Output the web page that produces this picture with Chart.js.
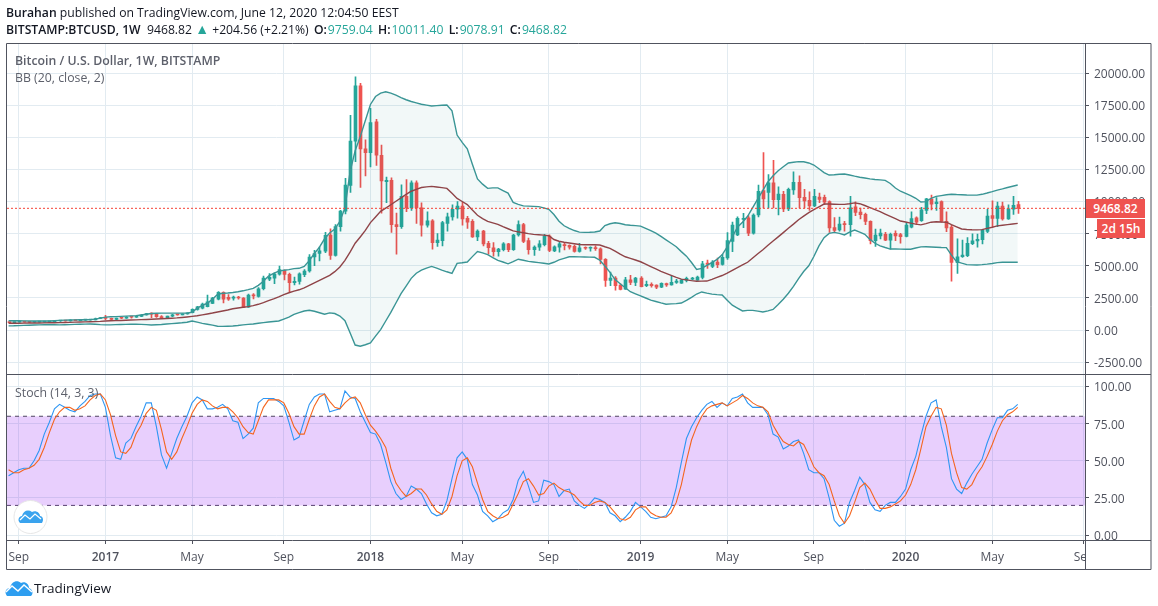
<!DOCTYPE html>
<html>
<head>
<meta charset="utf-8">
<title>BTCUSD 1W</title>
<script src="https://cdn.jsdelivr.net/npm/chart.js@4/dist/chart.umd.min.js"></script>
<style>
  html, body { margin: 0; padding: 0; background: #fff; }
  body { width: 1158px; height: 606px; position: relative; overflow: hidden; font-family: "Open Sans", sans-serif; color: #131722; }
  #chart { position: absolute; left: 0; top: 0; }
  .txt { position: absolute; white-space: nowrap; line-height: 16px; }
  .head { font-size: 12.2px; }
  .pane { font-size: 12.3px; color: #5d606b; }
  .up { color: #26a69a; }
  b { font-weight: 600; }
  b.l { margin-left: 2px; margin-right: 1px; }
  .tag { position: absolute; background: #ef5350; color: #fff; font-size: 12px; font-weight: 600; line-height: 19px; height: 19px; text-align: center; }
  .tv { font-size: 13.5px; color: #131722; }
</style>
</head>
<body>
<canvas id="chart" width="1158" height="606"></canvas>

<div class="txt head" style="left:6px;top:5px"><b>Burahan</b> published on TradingView.com, June 12, 2020 12:04:50 EEST</div>
<div class="txt head" style="left:6px;top:21px"><b>BITSTAMP:BTCUSD, 1W</b>&nbsp; 9468.82 <span class="up" style="font-size:14px">▲</span> +204.56 (+2.21%) <b class="l">O:</b><span class="up">9759.04</span> <b class="l">H:</b><span class="up">10011.40</span> <b class="l">L:</b><span class="up">9078.91</span> <b class="l">C:</b><span class="up">9468.82</span></div>
<div class="txt pane" style="left:15px;top:53px;font-weight:600">Bitcoin / U.S. Dollar, 1W, BITSTAMP</div>
<div class="txt pane" style="left:15px;top:70px">BB (20, close, 2)</div>
<div class="txt pane" style="left:15px;top:385px">Stoch (14, 3, 3)</div>

<div class="tag" style="left:1086px;top:199px;width:59px">9468.82</div>
<div class="tag" style="left:1097px;top:219px;width:48px">2d 15h</div>

<svg style="position:absolute;left:13px;top:500px" width="36" height="36" viewBox="0 0 36 36">
  <circle cx="17.500" cy="17" r="16.500" fill="#fff" stroke="#e6e6e6" stroke-width="1"/>
  <path d="M7 23 C4 20 6 16 9 16 C10 11 15 9 19 12 C23 10 27 13 27 16 C30 16 31 20 29 23 Z" fill="#3aa3ee"/>
  <path d="M7 20 L12 15 L17 19 L22 14 L28 19" fill="none" stroke="#fff" stroke-width="1.200"/>
</svg>
<svg style="position:absolute;left:5px;top:579px" width="28" height="18" viewBox="0 0 28 18">
  <path d="M2 17 C-1 13 1 9 5 9 C6 3 12 0 16 4 C20 2 24 5 24 9 C27 10 29 14 26 17 Z" fill="#2e9ef0"/>
  <path d="M1 13 L7 7 L13 12 L19 6 L27 13" fill="none" stroke="#fff" stroke-width="1.400"/>
</svg>
<div class="txt tv" style="left:34px;top:580px">TradingView</div>

<script>
// weekly BTCUSD bars, one value per week
const opens = [
  581,573,608,623,608,603,612,617,638,655,
  698,705,702,735,732,765,775,790,895,965,
  910,815,920,915,1015,1000,1050,1175,1270,1230,
  1040,960,1080,1190,1180,1250,1340,1600,1690,1820,
  2075,2390,2930,2540,2480,2530,2490,1780,2720,2620,
  3220,3960,4040,4340,4620,4330,3680,3780,4300,4590,
  5680,5950,6130,7390,5800,8050,9250,11250,14700,19000,
  14100,13800,16200,13600,11550,11650,8200,8050,10400,9500,
  11450,9500,8150,8500,6800,6950,8300,8800,9400,9650,
  8700,8450,7250,7700,6750,6400,6100,6250,6700,6250,
  7400,8200,6950,6250,6450,6650,7300,6150,6450,6650,
  6580,6520,6120,6420,6360,6420,6320,5500,3850,4050,
  3500,3180,3900,3700,4050,3450,3560,3500,3330,3620,
  3500,3710,3650,3850,3960,3880,4100,5200,4950,5280,
  5100,5600,6900,7400,8600,8720,7530,8950,10850,10700,
  11450,10150,10550,9430,10900,11500,10330,10100,9650,10350,
  10330,10000,7980,7780,8270,8200,9580,9170,9000,8450,
  6950,7320,7450,7000,7520,7420,7280,8000,8720,8500,
  9300,10180,9830,10000,8450,8000,5240,5700,5780,6720,
  6930,7020,7680,8900,8690,9650,8650,9400,9759.04
];
const highs = [
  583,612,630,628,612,615,620,645,658,740,
  745,755,785,750,780,780,795,935,985,1150,
  920,930,925,1040,1070,1060,1190,1290,1340,1260,
  1120,1090,1210,1220,1260,1345,1640,1850,2100,2720,
  2550,2990,2980,2760,2640,2620,2530,2800,2830,3300,
  4200,4400,4450,4980,4680,4420,4120,4450,4700,5860,
  6200,6470,7600,7880,8200,9320,11800,16700,19700,19200,
  14800,17250,16400,14400,11900,11850,9100,11300,11700,11600,
  11600,9900,9200,8600,7500,8450,9100,9750,10000,9950,
  8850,8600,7800,7750,6900,6800,6350,6800,6750,7450,
  8500,8300,7150,6550,6950,7450,7400,6550,6850,6800,
  6620,6600,6750,6470,6470,6560,6400,5550,4500,4150,
  3600,4100,4250,4100,4150,3800,3680,3520,3680,3650,
  4200,3950,3950,4120,4100,4200,5350,5450,5400,5600,
  5880,7580,8400,8800,9080,8900,9050,11280,13800,12100,
  13200,11150,10800,11050,12300,12000,10950,10750,10950,10650,
  10500,10050,8750,8780,8450,10400,9980,9480,9100,8500,
  7850,7850,7600,7550,7720,7530,8350,9200,8800,9550,
  10250,10500,10300,10050,9200,8150,7100,7000,7200,7480,
  7470,7830,9400,10050,9950,9950,9750,10400,10011.40
];
const lows = [
  568,565,600,600,590,598,604,610,625,650,
  672,695,695,725,725,755,770,785,880,810,
  755,800,880,905,930,975,1040,1160,950,975,
  900,940,1040,1150,1175,1240,1330,1550,1650,1800,
  2050,2350,2100,2300,2330,2400,1730,1760,2420,2550,
  3120,3830,3600,4270,3900,2970,3500,3570,4150,4500,
  5000,5370,6020,5500,5750,7700,9030,10700,13100,11100,
  12000,12700,12800,9100,9900,7600,5900,7900,9200,9300,
  8300,7300,8000,6300,6500,6550,7700,8550,8700,8150,
  7900,7200,6950,6550,5900,5750,5750,6150,6100,6200,
  7300,6800,5900,5800,6200,6550,6100,6100,6050,6230,
  6300,6050,6050,6270,6140,6200,5150,3400,3450,3100,
  3120,3150,3530,3450,3350,3370,3330,3220,3300,3400,
  3480,3620,3620,3750,3900,3850,3970,4800,4860,4860,
  5050,5500,6100,7350,7960,7350,7450,8800,9500,9500,
  9500,8950,9200,9280,10550,9500,9500,9300,9600,9900,
  9750,7600,7650,7700,7700,7300,8900,8650,8200,6700,
  6500,7080,6950,6300,6950,6750,7250,7950,8200,8450,
  9050,9350,9300,8400,7650,3800,4400,5650,5700,6650,
  6450,6700,7570,8000,8050,8550,8600,9000,9078.91
];
const closes = [
  573,608,623,608,603,612,617,638,655,698,
  705,702,735,732,765,775,790,895,965,910,
  815,920,915,1015,1000,1050,1175,1270,1230,1045,
  960,1080,1190,1180,1250,1340,1600,1800,2020,2200,
  2490,2930,2390,2390,2520,2490,1750,2710,2650,3210,
  4050,4090,4350,4700,4330,3680,3780,4380,4590,5680,
  5950,6170,7370,5800,8050,9250,11280,14700,19000,14100,
  13800,16150,13600,11600,11650,8200,8050,10400,9500,11450,
  9500,8150,8500,6800,7000,8350,8800,9400,9650,8650,
  8400,7250,7700,6700,6400,6100,6300,6700,6250,7380,
  8200,6900,6250,6450,6700,7300,6200,6480,6700,6560,
  6450,6120,6400,6360,6420,6320,5500,3850,4050,3450,
  3150,3900,3700,4050,3380,3560,3450,3330,3630,3500,
  3710,3800,3880,4020,4020,4110,5150,5100,5290,5090,
  5660,6950,8170,8700,8700,7530,8950,10800,10200,11450,
  10150,10580,9430,10950,11500,10300,10050,9650,10400,10170,
  9950,7950,7750,8250,8200,9500,9150,8980,8450,6950,
  7390,7550,7000,7450,7330,7260,8170,8680,8400,9350,
  10200,9800,9960,8450,7950,5250,5700,5840,6750,6930,
  7060,7780,8870,8680,9650,8650,9420,9700,9468.82
];

const bbUpper = [
  720,720,715,710,705,700,700,700,705,725,
  750,765,775,785,795,800,810,850,920,1000,
  1030,1040,1060,1080,1100,1120,1170,1230,1280,1300,
  1310,1310,1310,1310,1310,1310,1380,1700,1920,2080,
  2400,2780,2860,2880,2920,2980,3050,3140,3240,3470,
  3800,4200,4400,4580,4650,4700,4780,4800,4950,5400,
  5950,6450,7100,7550,7850,8450,9500,12300,13950,15050,
  16300,17550,18170,18430,18540,18430,18280,18090,17920,17780,
  17680,17570,17500,17430,17460,17490,17510,17050,15170,14600,
  14100,12900,11760,11350,11020,11060,11060,10850,10650,9930,
  9780,9660,9640,9620,9600,9500,9390,8990,8460,8110,
  7900,7740,7620,7600,7610,7630,7700,8130,8270,8340,
  8290,8190,8150,8120,8080,7910,7730,7540,7280,7020,
  6750,6480,6100,5750,5250,4710,4790,5030,5240,5500,
  5850,6470,7240,8000,8390,8850,9520,10210,10870,11540,
  12000,12400,12700,13000,13050,13100,13090,13000,12840,12550,
  12250,12060,12080,12120,12140,12060,11970,11890,11830,11760,
  11710,11680,11640,11400,11050,10800,10630,10450,10250,9960,
  9990,10250,10400,10460,10520,10560,10540,10530,10510,10500,
  10500,10560,10660,10770,10890,10980,11090,11190,11280
];
const bbBasis = [
  520,525,530,535,540,545,550,555,560,565,
  575,585,595,610,620,630,640,650,670,700,
  715,730,745,760,775,790,805,820,835,855,
  870,890,915,940,975,1015,1060,1110,1180,1250,
  1320,1400,1480,1560,1650,1710,1770,1820,1900,2000,
  2130,2280,2420,2580,2760,2900,3030,3130,3280,3470,
  3660,3860,4060,4250,4540,4900,5420,6060,6750,7240,
  7750,8360,8800,9230,9490,9750,10020,10280,10550,10800,
  10950,11090,11140,11180,11130,11080,11020,10640,10240,10000,
  9760,9330,8930,8670,8450,8340,8220,8040,7880,7710,
  7640,7570,7500,7440,7410,7380,7340,7040,6910,6830,
  6770,6710,6650,6640,6640,6640,6610,6480,6360,6130,
  5900,5700,5580,5450,5310,5120,4940,4750,4570,4410,
  4250,4090,3960,3900,3840,3790,3800,3810,3940,4090,
  4240,4430,4640,4850,5060,5270,5600,5930,6250,6590,
  6920,7250,7580,7920,8240,8580,8860,9130,9360,9590,
  9800,9800,9790,9780,9780,9830,9890,9830,9690,9530,
  9370,9210,9020,8840,8660,8480,8400,8320,8240,8180,
  8280,8390,8420,8400,8390,8200,8030,7860,7820,7800,
  7790,7810,7910,8000,8100,8150,8200,8250,8300
];
const bbLower = [
  320,325,340,360,375,390,400,410,415,405,
  400,405,415,435,445,460,470,450,420,400,
  400,420,430,440,450,460,440,420,390,410,
  430,470,500,530,560,600,700,610,520,450,
  380,290,285,295,310,350,400,440,470,520,
  570,620,660,700,850,1000,1220,1350,1480,1540,
  1460,1340,1225,1330,1280,1090,730,-210,-1170,-1260,
  -1150,-1000,-480,30,700,1370,2100,2830,3420,4020,
  4420,4660,4820,4950,4810,4660,4530,4410,5190,5230,
  5290,5710,6110,6000,5860,5640,5420,5290,5150,5320,
  5510,5430,5340,5290,5240,5190,5140,5270,5460,5580,
  5700,5700,5690,5680,5670,5660,5430,4980,4480,3920,
  3600,3290,2980,2810,2650,2490,2330,2220,2110,2010,
  2030,2050,2100,2310,2540,2800,2960,2870,2790,2750,
  2720,2320,1930,1700,1480,1530,1530,1470,1400,1490,
  1600,1980,2400,2860,3400,4000,4550,5000,5720,6550,
  7180,7520,7600,7520,7400,7620,7780,7620,7450,7050,
  6750,6550,6420,6300,6300,6290,6280,6280,6380,6470,
  6480,6460,6440,6420,6410,5830,5320,5200,5090,5070,
  5060,5090,5130,5180,5240,5270,5270,5270,5270
];

const stochK = [
  40,42,44,45,45,50,57,68,76,85,
  88,86,84,83,87,90,94,95,95,86,
  67,52,51,62,65,73,80,89,89,73,
  54,45,55,65,73,80,89,93,91,85,
  85,86,88,85,77,76,65,68,72,89,
  92,92,92,90,87,76,64,66,77,88,
  93,95,95,83,84,85,97,93,92,83,
  76,69,68,61,49,36,28,24,26,33,
  31,28,21,15,13,14,23,38,52,56,
  51,34,27,16,13,9,11,15,17,24,
  37,43,33,22,23,37,36,34,26,30,
  31,23,20,18,21,25,24,22,15,13,
  9,12,16,22,19,16,12,11,12,13,
  19,32,49,65,73,79,84,88,90,86,
  89,87,92,93,95,89,86,86,86,81,
  68,66,58,60,63,64,55,44,42,42,
  38,25,10,6,8,22,30,39,34,22,
  17,16,20,22,22,26,31,44,53,67,
  80,89,91,73,59,38,31,28,35,41,
  46,51,62,71,79,79,84,85,88
];
const stochD = [
  44,42,42,44,45,47,51,59,69,78,
  83,86,86,84,85,87,91,94,95,91,
  81,67,56,55,59,68,74,82,86,84,
  71,56,51,56,65,73,82,88,91,90,
  87,85,86,86,83,79,73,69,68,77,
  86,91,91,91,89,82,73,68,68,78,
  87,93,95,90,86,85,89,92,93,89,
  81,74,70,65,59,45,35,30,26,28,
  31,31,27,21,16,14,17,26,40,50,
  52,46,35,24,16,13,11,12,14,21,
  28,36,38,33,27,28,33,35,32,30,
  29,27,23,20,20,22,23,22,19,15,
  11,10,12,17,19,19,15,13,12,12,
  15,22,34,50,64,73,80,85,87,88,
  89,87,89,91,94,92,89,87,86,83,
  74,68,63,61,60,63,61,54,46,42,
  40,34,23,13,8,13,22,32,35,31,
  24,18,18,19,21,23,27,34,44,58,
  73,80,86,85,74,55,42,32,31,34,
  41,46,53,61,70,77,81,83,86
];

const xTickWeeks = [2, 19, 36, 54, 71, 89, 106, 124, 141, 158, 176, 193, 211];
const xTickLabels = ['Sep', '2017', 'May', 'Sep', '2018', 'May', 'Sep', '2019', 'May', 'Sep', '2020', 'May', 'Sep'];
const priceTicks = [-2500, 0, 2500, 5000, 7500, 10000, 12500, 15000, 17500, 20000];
const stochTicks = [0, 25, 50, 75, 100];
const lastPrice = 9468.82;
const stochHigh = 80;
const stochLow = 20;

const UP = '#26a69a';
const DOWN = '#ef5350';
const GRID = '#e2ebf1';
const FRAME = '#50535e';
const TEXT = '#50535e';
const BAND = '#3a9595';
const FONT = '"Open Sans", sans-serif';

// visible range of the panes
const xMin = -0.31, xMax = 211.2;
const priceMin = -3476, priceMax = 22257;
const stochMin = -3.3, stochMax = 108;

const series = (vals) => vals.map((v, i) => ({ x: i, y: v }));
const level = (v) => [{ x: xMin, y: v }, { x: xMax, y: v }];
const candleColor = (ctx) => (closes[ctx.dataIndex] >= opens[ctx.dataIndex] ? UP : DOWN);
const isYear = (ctx) => ctx.tick && /\d/.test(String(ctx.tick.label));
// empty first line with a small line height nudges the label down a little
const priceLabel = (v) => ['', v.toFixed(2)];

// bars land on whole pixels like on the original chart
const snapBars = {
  id: 'snapBars',
  afterDatasetsUpdate(chart) {
    chart.getSortedVisibleDatasetMetas().forEach((meta) => {
      if (meta.type !== 'bar') return;
      meta.data.forEach((el) => { el.x = Math.round(el.x) + 0.5; });
    });
  },
};

// outer box and pane separators, the last Sep label is cut at the price axis
const frame = {
  id: 'frame',
  afterDraw(chart) {
    const { ctx, chartArea: a } = chart;
    const sep = chart.scales.y2.top;
    ctx.save();
    ctx.fillStyle = '#fff';
    ctx.fillRect(a.right, a.bottom + 1, 70, 30);
    ctx.strokeStyle = FRAME;
    ctx.lineWidth = 1;
    ctx.beginPath();
    ctx.rect(6.5, 43.5, 1144.5, 526);
    ctx.moveTo(a.right + 0.5, 43.5); ctx.lineTo(a.right + 0.5, 569.5);
    ctx.moveTo(6.5, Math.round(sep) - 0.5); ctx.lineTo(1151, Math.round(sep) - 0.5);
    ctx.moveTo(6.5, a.bottom + 0.5); ctx.lineTo(1151, a.bottom + 0.5);
    ctx.stroke();
    ctx.restore();
  },
};

new Chart(document.getElementById('chart'), {
  type: 'bar',
  data: {
    datasets: [
      // candles
      { type: 'bar', label: 'wick', yAxisID: 'y', order: 6, barThickness: 1, grouped: false,
        data: lows.map((l, i) => ({ x: i, y: [l, highs[i]] })), backgroundColor: candleColor },
      { type: 'bar', label: 'body', yAxisID: 'y', order: 5, barThickness: 3, grouped: false, minBarLength: 1,
        data: opens.map((o, i) => ({ x: i, y: [o, closes[i]] })), backgroundColor: candleColor },
      // bollinger bands
      { type: 'line', label: 'BB upper', yAxisID: 'y', order: 4, data: series(bbUpper), borderColor: BAND, borderWidth: 1.4,
        pointRadius: 0, tension: 0, fill: { target: 4 }, backgroundColor: 'rgba(19,132,132,0.055)' },
      { type: 'line', label: 'BB basis', yAxisID: 'y', order: 3, data: series(bbBasis), borderColor: '#8f4448', borderWidth: 1.4,
        pointRadius: 0, tension: 0, fill: false },
      { type: 'line', label: 'BB lower', yAxisID: 'y', order: 3, data: series(bbLower), borderColor: BAND, borderWidth: 1.4,
        pointRadius: 0, tension: 0, fill: false },
      // last price
      { type: 'line', label: 'last', yAxisID: 'y', order: 2, data: level(lastPrice), borderColor: '#f44336', borderWidth: 1,
        borderDash: [2, 2], pointRadius: 0, fill: false },
      // stochastic band
      { type: 'line', label: 'stoch high', yAxisID: 'y2', order: 4, data: level(stochHigh), borderColor: '#4f4560', borderWidth: 1,
        borderDash: [4, 4], pointRadius: 0, fill: { target: 7 }, backgroundColor: 'rgba(140,15,245,0.2)' },
      { type: 'line', label: 'stoch low', yAxisID: 'y2', order: 4, data: level(stochLow), borderColor: '#4f4560', borderWidth: 1,
        borderDash: [4, 4], pointRadius: 0, fill: false },
      { type: 'line', label: '%K', yAxisID: 'y2', order: 2, data: series(stochK), borderColor: '#2e96f3', borderWidth: 1.1,
        pointRadius: 0, tension: 0, fill: false },
      { type: 'line', label: '%D', yAxisID: 'y2', order: 1, data: series(stochD), borderColor: '#f4651f', borderWidth: 1.1,
        pointRadius: 0, tension: 0, fill: false },
    ],
  },
  options: {
    responsive: false,
    animation: false,
    events: [],
    layout: { padding: { left: 7, right: 7, top: 44, bottom: 36.5 } },
    plugins: { legend: { display: false }, tooltip: { enabled: false } },
    scales: {
      x: {
        type: 'linear',
        min: xMin,
        max: xMax,
        offset: false,
        border: { display: false },
        grid: { offset: false, color: GRID, tickColor: FRAME, tickLength: 4 },
        afterBuildTicks: (scale) => { scale.ticks = xTickWeeks.map((w) => ({ value: w })); },
        afterFit: (scale) => { scale.height = 29.5; },
        ticks: {
          autoSkip: false,
          maxRotation: 0,
          padding: 6,
          font: (ctx) => ({ family: FONT, size: 12, weight: isYear(ctx) ? '600' : '400' }),
          color: TEXT,
          callback: (v) => xTickLabels[xTickWeeks.indexOf(v)],
        },
      },
      y: {
        type: 'linear',
        position: 'right',
        stack: 'panes',
        stackWeight: 2,
        min: priceMin,
        max: priceMax,
        border: { display: false },
        grid: { color: GRID, tickColor: FRAME, tickLength: 4 },
        afterFit: (scale) => { scale.width = 66; },
        afterBuildTicks: (scale) => { scale.ticks = priceTicks.map((v) => ({ value: v })); },
        ticks: {
          padding: 5,
          font: { family: FONT, size: 12, lineHeight: '3px' },
          color: TEXT,
          callback: priceLabel,
        },
      },
      y2: {
        type: 'linear',
        position: 'right',
        stack: 'panes',
        stackWeight: 1,
        min: stochMin,
        max: stochMax,
        border: { display: false },
        grid: { color: GRID, tickColor: FRAME, tickLength: 4 },
        afterFit: (scale) => { scale.width = 66; },
        afterBuildTicks: (scale) => { scale.ticks = stochTicks.map((v) => ({ value: v })); },
        ticks: {
          padding: 5,
          font: { family: FONT, size: 12, lineHeight: '3px' },
          color: TEXT,
          callback: priceLabel,
        },
      },
    },
  },
  plugins: [snapBars, frame],
});
</script>
</body>
</html>
